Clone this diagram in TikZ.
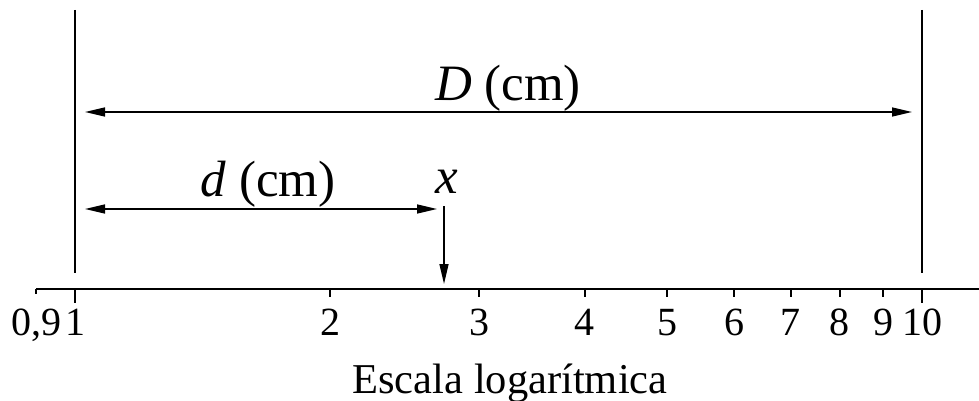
\documentclass[tikz,border=0pt]{standalone}
\usepackage{fontspec}
\setmainfont{Liberation Serif}
\usetikzlibrary{arrows.meta}
\tikzset{
  tri/.tip={Triangle[length=20pt,width=9pt]},
  thinline/.style={line width=1.5pt},
  axisline/.style={line width=2pt},
  ticklab/.style={anchor=base,inner sep=0pt,font=\fontsize{40}{44}\selectfont},
  biglab/.style={anchor=base,inner sep=0pt,font=\fontsize{51}{56}\selectfont},
}
\begin{document}
\begin{tikzpicture}[x=1pt,y=-1pt]
\useasboundingbox (0,0) rectangle (979,401);
% vertical limit lines
\coordinate (v1t) at (75,10);   \coordinate (v1b) at (75,273);
\coordinate (v2t) at (922,10);  \coordinate (v2b) at (922,273);
\draw[thinline] (v1t) -- (v1b);
\draw[thinline] (v2t) -- (v2b);
% D arrow
\coordinate (Dl) at (85,112); \coordinate (Dr) at (912,112);
\draw[thinline,{tri}-{tri}] (Dl) -- (Dr);
\node[biglab] (Dlab) at (508,101) {\textit{D} (cm)};
% d arrow
\coordinate (dl) at (85,209); \coordinate (dr) at (437,209);
\draw[thinline,{tri}-{tri}] (dl) -- (dr);
\node[biglab] (dlab) at (268,196) {\textit{d} (cm)};
% x marker
\node[biglab] (xlab) at (447,193) {\textit{x}};
\coordinate (xt) at (444,206); \coordinate (xb) at (444,284);
\draw[thinline,-{tri}] (xt) -- (xb);
% axis
\coordinate (a0) at (36,289); \coordinate (a1) at (979,289);
\draw[axisline] (a0) -- (a1);
% ticks
\foreach \v/\xx/\len in {0.9/36.2/5, 2/330/8, 3/479.1/8, 4/584.9/8, 5/667/8, 6/734.1/8, 7/790.8/8, 8/839.9/8, 9/883.2/8}{
  \draw[axisline] (\xx,289) -- (\xx,289+\len);
}
\draw[axisline] (75,289) -- (75,303);
\draw[axisline] (922,289) -- (922,303);
% tick labels
\node[ticklab] (l09) at (36,335) {0,9};
\node[ticklab] (l1) at (75,335) {1};
\node[ticklab] (l2) at (330,335) {2};
\node[ticklab] (l3) at (479.1,335) {3};
\node[ticklab] (l4) at (584.9,335) {4};
\node[ticklab] (l5) at (667,335) {5};
\node[ticklab] (l6) at (734.1,335) {6};
\node[ticklab] (l7) at (790.8,335) {7};
\node[ticklab] (l8) at (839.9,335) {8};
\node[ticklab] (l9) at (883.2,335) {9};
\node[ticklab] (l10) at (922,335) {10};
\node[ticklab,font=\fontsize{42.5}{46}\selectfont] (title) at (510,393) {Escala logarítmica};
\end{tikzpicture}
\end{document}
